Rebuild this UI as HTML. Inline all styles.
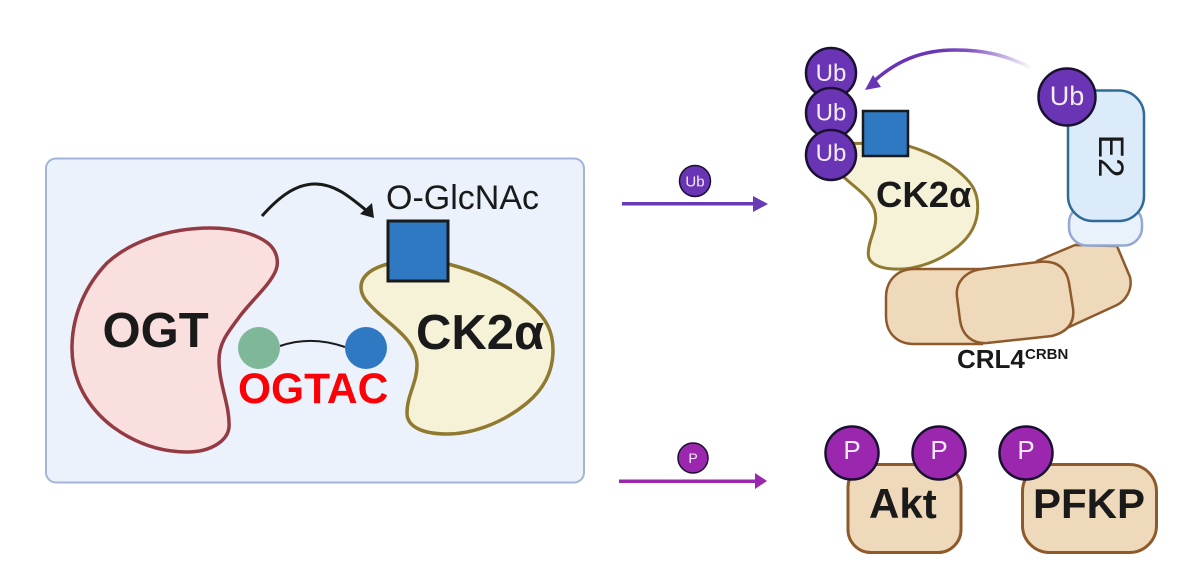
<!DOCTYPE html>
<html>
<head>
<meta charset="utf-8">
<style>
html,body{margin:0;padding:0;background:#fff;width:1200px;height:574px;overflow:hidden}
svg{display:block}
text{font-family:"Liberation Sans",sans-serif}
.b{font-weight:bold;fill:#1a1a1a}
.w{fill:#f3ecfa;text-anchor:middle}
</style>
</head>
<body>
<svg width="1200" height="574" viewBox="0 0 1200 574" xmlns="http://www.w3.org/2000/svg">
<defs>
<linearGradient id="fade" gradientUnits="userSpaceOnUse" x1="1032" y1="68" x2="940" y2="50">
<stop offset="0" stop-color="#6a35b5" stop-opacity="0"/>
<stop offset="0.7" stop-color="#6a35b5" stop-opacity="0.85"/>
<stop offset="1" stop-color="#6a35b5"/>
</linearGradient>
</defs>

<!-- Left panel -->
<rect x="46" y="158.500" width="538" height="324" rx="10" fill="#ebf2fb" stroke="#a3b4d8" stroke-width="2"/>

<path d="M72 345 C73 312 87 284 107 263 C131 241 170 228 210 228 C235 228 258 234 270 245 C277 252 279 262 276 270 C270 285 252 300 240 316 C228 332 219 343 219 360 C219 385 230 405 229 427 C228 440 212 452 187 452 C160 452 135 443 113 427 C88 408 71 380 72 345Z" fill="#f9dfdd" stroke="#943a43" stroke-width="3.500"/>
<text x="102.500" y="347" font-size="49" class="b">OGT</text>

<path d="M388 264 C372 268 361 276 361 287 C361 297 368 303 375 310 C390 325 417 340 417 365 C417 383 407 395 407 413 C407 428 425 434 447 434 C470 434 500 425 527 403 C545 388 553 370 553 350 C553 330 545 318 533 307 C515 290 490 275 448 264Z" fill="#f5f2d8" stroke="#8f7a30" stroke-width="3.500"/>
<rect x="388" y="221" width="60" height="60" fill="#2f79c2" stroke="#1a1a1a" stroke-width="3"/>
<text x="416" y="349" font-size="49" class="b">CK2α</text>
<text x="386" y="209" font-size="34" fill="#1a1a1a">O-GlcNAc</text>

<path d="M262 216 C278 198 295 184 315 184 C335 184 350 197 367 211" fill="none" stroke="#1a1a1a" stroke-width="3"/>
<polygon points="374,218 360,214 372,203" fill="#1a1a1a"/>

<path d="M280 346 C300 339 322 339 345 347" fill="none" stroke="#1a1a1a" stroke-width="2"/>
<circle cx="259" cy="348" r="21" fill="#7fb898"/>
<circle cx="366" cy="348" r="21" fill="#2f79c2"/>
<text x="238" y="403" font-size="42.500" font-weight="bold" fill="#fb0007">OGTAC</text>

<!-- Middle arrows -->
<rect x="622" y="202" width="134" height="3.500" fill="#6a3ab5"/>
<polygon points="768,204 753,196 753,212" fill="#6a3ab5"/>
<circle cx="695" cy="181" r="15.500" fill="#6a35b5" stroke="#1a1030" stroke-width="1.500"/>
<text x="695" y="186.500" font-size="15" class="w">Ub</text>

<rect x="619" y="479.500" width="138" height="3.500" fill="#9b27af"/>
<polygon points="767,481 755,473 755,489" fill="#9b27af"/>
<circle cx="693" cy="458" r="15" fill="#9b27af" stroke="#1a1030" stroke-width="1.500"/>
<text x="693" y="463" font-size="14" class="w">P</text>

<!-- Top right -->
<path d="M1032 68 C1005 55 985 50 955 50 C920 50 895 62 873 82" fill="none" stroke="url(#fade)" stroke-width="3.500"/>
<polygon points="865,90 873,75 881,87" fill="#6a35b5"/>

<path transform="translate(563 -52) scale(.75 .74)" d="M388 264 C372 268 361 276 361 287 C361 297 368 303 375 310 C390 325 417 340 417 365 C417 383 407 395 407 413 C407 428 425 434 447 434 C470 434 500 425 527 403 C545 388 553 370 553 350 C553 330 545 318 533 307 C515 290 490 275 448 264Z" fill="#f5f2d8" stroke="#8f7a30" stroke-width="4"/>
<rect x="863" y="111" width="45" height="45" fill="#2f79c2" stroke="#1a1a1a" stroke-width="2.500"/>
<text x="876" y="207" font-size="36.500" class="b">CK2α</text>

<circle cx="831" cy="73" r="25" fill="#6a35b5" stroke="#1a1030" stroke-width="2.500"/>
<text x="831" y="81" font-size="24" class="w">Ub</text>
<circle cx="831" cy="113" r="25" fill="#6a35b5" stroke="#1a1030" stroke-width="2.500"/>
<text x="831" y="120.500" font-size="24" class="w">Ub</text>
<circle cx="831" cy="155" r="25" fill="#6a35b5" stroke="#1a1030" stroke-width="2.500"/>
<text x="831" y="161" font-size="24" class="w">Ub</text>

<!-- CRL4 -->
<path d="M1037 261 L1075 245 L1117 246 L1130 277 C1133 290 1125 301 1117 305 L1067 328 L1050 310Z" fill="#efd9bb" stroke="#8f5a2b" stroke-width="2.500" stroke-linejoin="round"/>
<path d="M982 269 L914 269 C897 269 886 281 886 297 L886 316 C886 333 897 344 914 344 L982 344Z" fill="#efd9bb" stroke="#8f5a2b" stroke-width="2.500"/>
<path d="M982 269 L1038 262 C1055 260 1066 266 1069 283 L1073 308 C1075 323 1067 332 1052 336 L987 343 C972 344 962 335 960 320 L957 297 C955 282 966 271 982 269Z" fill="#efd9bb" stroke="#8f5a2b" stroke-width="2.500"/>

<rect x="1069" y="205" width="73" height="40.500" rx="18" fill="#e9f1fb" stroke="#93a8d2" stroke-width="2.500"/>
<rect x="1068" y="90.500" width="76" height="130.500" rx="25" fill="#dcebf9" stroke="#2e6b96" stroke-width="2.500"/>
<text transform="translate(1099 156) rotate(90)" font-size="35" text-anchor="middle" fill="#1a1a1a">E2</text>
<circle cx="1067" cy="97" r="28.500" fill="#6a35b5" stroke="#1a1030" stroke-width="2.500"/>
<text x="1067" y="105" font-size="27" class="w">Ub</text>

<text x="957" y="368" font-size="26" class="b">CRL4</text>
<text x="1025" y="359" font-size="15" class="b">CRBN</text>

<!-- Bottom right -->
<rect x="848" y="464.500" width="113" height="88" rx="23" fill="#efd9bb" stroke="#8f5a2b" stroke-width="3"/>
<rect x="1022.500" y="464.500" width="134" height="88" rx="27" fill="#efd9bb" stroke="#8f5a2b" stroke-width="3"/>
<text x="869" y="518" font-size="42" class="b">Akt</text>
<text x="1033" y="518" font-size="42" class="b">PFKP</text>
<circle cx="852" cy="453" r="26.500" fill="#9b27af" stroke="#1a1030" stroke-width="2.500"/>
<text x="852" y="459" font-size="26" class="w">P</text>
<circle cx="939" cy="453" r="26.500" fill="#9b27af" stroke="#1a1030" stroke-width="2.500"/>
<text x="939" y="459" font-size="26" class="w">P</text>
<circle cx="1026" cy="453" r="26.500" fill="#9b27af" stroke="#1a1030" stroke-width="2.500"/>
<text x="1026" y="459" font-size="26" class="w">P</text>
</svg>
</body>
</html>
